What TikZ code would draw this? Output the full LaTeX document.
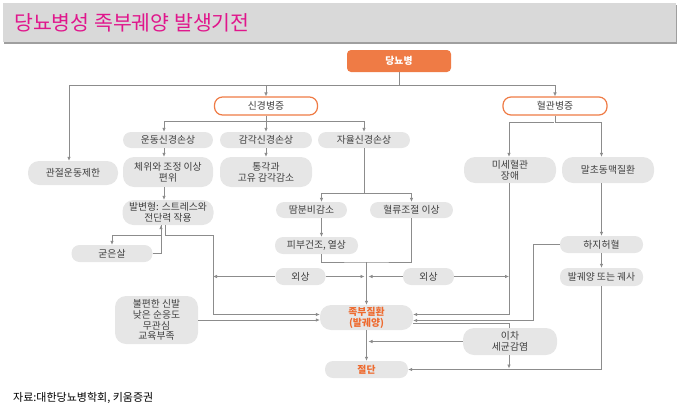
\documentclass[tikz,border=0pt]{standalone}
\usepackage{fontspec}
\setmainfont{Noto Sans CJK KR}
\usetikzlibrary{arrows.meta}
\definecolor{nodegray}{HTML}{E6E6E6}
\definecolor{txtgray}{HTML}{404040}
\definecolor{lngray}{HTML}{8C8C8C}
\definecolor{orng}{HTML}{EF7B45}
\definecolor{orngtxt}{HTML}{EE6A2E}
\definecolor{magenta}{HTML}{E0168C}
\begin{document}
\begin{tikzpicture}[x=1pt,y=-1pt,
  box/.style={rounded corners=8pt, fill=nodegray, text=txtgray, inner sep=0pt, align=center,
    font=\fontsize{9.8}{10.8}\selectfont},
  box2/.style={box, rounded corners=11pt},
  pill/.style={box, fill=white, draw=orng, line width=1.2pt},
  hot/.style={text=orngtxt, font=\fontsize{9.8}{11}\selectfont\bfseries},
  ln/.style={draw=lngray, line width=0.7pt},
  ar/.style={ln, -{Latex[length=4pt,width=3.6pt]}},
  sz/.style n args={2}{minimum width=#1pt, minimum height=#2pt}]
\useasboundingbox (0,0) rectangle (681,413);
% title bar
\fill[gray!75] (4,5) rectangle (677,44);
\fill[gray!30] (3,3) rectangle (676,42);
\node[anchor=west, text=magenta, font=\fontsize{20.5}{24}\selectfont, inner sep=0pt] (title) at (14,23) {당뇨병성 족부궤양 발생기전};
% nodes
\node[box, rounded corners=4pt, fill=orng, text=white, font=\fontsize{9.8}{10.8}\selectfont\bfseries, sz={104}{22}] (dm) at (399,61) {당뇨병};
\node[pill, sz={103}{18}] (neuro) at (266,106) {신경병증};
\node[pill, sz={104}{18}] (vasc) at (555,106) {혈관병증};
\node[box, sz={90}{16}] (motor) at (168,140) {운동신경손상};
\node[box, sz={92}{16}] (sensory) at (266,140) {감각신경손상};
\node[box, sz={92}{16}] (auto) at (364,140) {자율신경손상};
\node[box2, sz={90}{24}] (joint) at (73,173) {관절운동제한};
\node[box2, sz={90}{30}] (posture) at (168,172) {체위와 조정 이상\\편위};
\node[box2, sz={92}{30}] (pain) at (266,172) {통각과\\고유 감각감소};
\node[box2, sz={92}{26}] (micro) at (510,170) {미세혈관\\장애};
\node[box2, sz={92}{26}] (pad) at (608,170) {말초동맥질환};
\node[box2, sz={91}{25}] (deform) at (168,212.5) {발변형: 스트레스와\\전단력 작용};
\node[box, sz={81}{17}] (callus) at (112,253.5) {굳은살};
\node[box, sz={71}{16}] (sweat) at (311.5,210) {땀분비감소};
\node[box, sz={83}{16}] (flow) at (411.5,210) {혈류조절 이상};
\node[box, sz={83}{17}] (dry) at (316.5,245.5) {피부건조, 열상};
\node[box, sz={50}{17}] (trauma1) at (300.5,276.5) {외상};
\node[box, sz={51}{17}] (trauma2) at (428.5,276.5) {외상};
\node[box, sz={83}{17}] (ischemia) at (601.5,244.5) {하지허혈};
\node[box, sz={83}{18}] (ulcer) at (601.5,277) {발궤양 또는 궤사};
\node[box2, sz={83}{48}] (shoe) at (156.5,320) {불편한 신발\\낮은 순응도\\무관심\\교육부족};
\node[box2, hot, sz={93}{25}] (foot) at (366.5,317.5) {족부질환\\(발궤양)};
\node[box2, sz={94}{27}] (infection) at (510,341.5) {이차\\세균감염};
\node[box, hot, sz={83}{17}] (amput) at (366.5,369.5) {절단};
% junctions
\coordinate (t0) at (399,85);
\coordinate (n0) at (266,121);
\coordinate (v0) at (555,122);
\coordinate (a0) at (364,193);
\coordinate (m0) at (366.5,262);
\coordinate (c0) at (161,235);
\coordinate (d1) at (213,235);
\coordinate (i1) at (533,244.5);
% top
\draw[ln] (dm.south) -- (t0);
\draw[ar] (t0) -| ([xshift=-4pt]joint.north);
\draw[ar] (t0) -| (neuro.north);
\draw[ar] (t0) -| (vasc.north);
% neuropathy
\draw[ln] (neuro.south) -- (n0);
\draw[ar] (n0) -| ([xshift=-4pt]motor.north);
\draw[ar] (n0) -- (sensory.north);
\draw[ar] (n0) -| (auto.north);
\draw[ar] ([xshift=-4pt]motor.south) -- ([xshift=-4pt]posture.north);
\draw[ar] (sensory.south) -- (pain.north);
\draw[ar] ([xshift=-4pt]posture.south) -- ([xshift=-4pt]deform.north);
% deformity / callus
\draw[ar] ([xshift=-7pt]deform.south) -- (c0) -| (callus.north);
\draw[ar] (callus.east) -| ([xshift=-7pt]deform.south);
\draw[ar] ([xshift=-3pt]deform.south) |- (d1) |- ([yshift=3pt]foot.west);
\draw[ar] (shoe.east) -- (shoe.east -| foot.west);
% autonomic
\draw[ln] (auto.south) -- (a0);
\draw[ar] (a0) -| ([xshift=10pt]sweat.north);
\draw[ar] (a0) -| (flow.north);
\draw[ar] ([xshift=10pt]sweat.south) -- ([xshift=5pt]dry.north);
\draw[ln] ([xshift=5pt]dry.south) |- (m0) -| (flow.south);
\draw[ar] (m0) -- (foot.north);
% trauma
\draw[ar] (trauma1.west) -- (trauma1.west -| d1);
\draw[ar] (trauma1.east) -- ([xshift=-2pt]trauma1.east -| m0);
\draw[ar] (trauma2.west) -- ([xshift=2pt]trauma2.west -| m0);
\draw[ar] (trauma2.east) -- ([xshift=-1pt]trauma2.east -| micro.south);
% vascular
\draw[ln] (vasc.south) -- (v0);
\draw[ar] ([xshift=-1pt]v0) -| ([xshift=-1pt]micro.north);
\draw[ar] (v0) -| (pad.north -| ischemia.north);
\draw[ar] (pad.south -| ischemia.north) -- (ischemia.north);
\draw[ar] (ischemia) -- (ulcer);
\draw[ar] ([xshift=-1pt]micro.south) |- ([yshift=3pt]foot.east);
\draw[ar] (ischemia.west) -- (i1) |- ([yshift=-3pt]foot.east);
\draw[ln] ([yshift=-6pt]foot.east) -| ([xshift=-1pt]infection.north);
\draw[ar] (infection.west) -- ([xshift=2pt]infection.west -| foot.south);
\draw[ar] (ulcer.south) |- (amput.east);
\draw[ar] ([xshift=-1pt]infection.south) -- ([xshift=-1pt,yshift=1pt]infection.south |- amput.east);
\draw[ar] (foot.south) -- (amput.north);
% source
\node[anchor=west, inner sep=0pt, font=\fontsize{11}{13}\selectfont] (src) at (13,398) {자료:대한당뇨병학회, 키움증권};
\end{tikzpicture}
\end{document}
